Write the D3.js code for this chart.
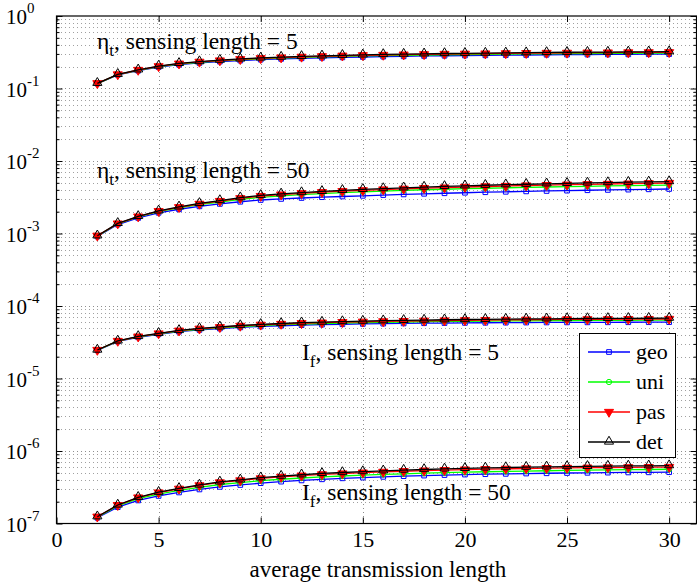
<!DOCTYPE html>
<html><head><meta charset="utf-8">
<script src="https://cdn.jsdelivr.net/npm/d3@7/dist/d3.min.js"></script>
<style>body{margin:0;background:#fff}text{font-family:"Liberation Serif","Times New Roman",serif}</style>
</head><body>
<svg id="c" width="697" height="583"></svg>
<script>
const xs = [2,3,4,5,6,7,8,9,10,11,12,13,14,15,16,17,18,19,20,21,22,23,24,25,26,27,28,29,30];
const seriesNames = ["geo","uni","pas","det"];
const xTicks = [0,5,10,15,20,25,30];
const yTicks = [1e-7,1e-6,1e-5,1e-4,1e-3,1e-2,1e-1,1e0];
const yTickExps = ["-7","-6","-5","-4","-3","-2","-1","0"];

// eta_t, sensing length = 5
const etaS5_geo = [0.117,0.154,0.176,0.197,0.213,0.225,0.235,0.243,0.250,0.256,0.261,0.265,0.269,0.272,0.275,0.278,0.281,0.283,0.285,0.287,0.289,0.290,0.292,0.293,0.294,0.295,0.296,0.297,0.298];
const etaS5_uni = [0.117,0.155,0.178,0.200,0.217,0.230,0.240,0.249,0.257,0.263,0.268,0.273,0.277,0.281,0.284,0.287,0.290,0.292,0.294,0.296,0.298,0.300,0.301,0.303,0.304,0.305,0.306,0.307,0.308];
const etaS5_pas = [0.118,0.156,0.180,0.202,0.220,0.233,0.243,0.253,0.261,0.267,0.273,0.278,0.283,0.287,0.290,0.293,0.296,0.299,0.301,0.303,0.305,0.307,0.309,0.310,0.312,0.313,0.314,0.315,0.316];
const etaS5_det = [0.118,0.157,0.181,0.204,0.222,0.235,0.246,0.256,0.264,0.271,0.277,0.282,0.287,0.291,0.295,0.298,0.301,0.304,0.306,0.308,0.310,0.312,0.314,0.316,0.317,0.318,0.320,0.321,0.322];

// eta_t, sensing length = 50
const etaS50_geo = [0.91e-3,1.33e-3,1.64e-3,1.93e-3,2.16e-3,2.37e-3,2.56e-3,2.74e-3,2.90e-3,3.00e-3,3.09e-3,3.17e-3,3.24e-3,3.31e-3,3.39e-3,3.46e-3,3.53e-3,3.59e-3,3.65e-3,3.71e-3,3.76e-3,3.81e-3,3.86e-3,3.90e-3,3.95e-3,3.99e-3,4.03e-3,4.07e-3,4.11e-3];
const etaS50_uni = [0.92e-3,1.36e-3,1.69e-3,2.00e-3,2.26e-3,2.50e-3,2.72e-3,2.96e-3,3.16e-3,3.30e-3,3.43e-3,3.55e-3,3.66e-3,3.76e-3,3.85e-3,3.93e-3,4.01e-3,4.08e-3,4.15e-3,4.21e-3,4.27e-3,4.33e-3,4.38e-3,4.43e-3,4.48e-3,4.53e-3,4.57e-3,4.61e-3,4.65e-3];
const etaS50_pas = [0.93e-3,1.37e-3,1.71e-3,2.03e-3,2.30e-3,2.56e-3,2.80e-3,3.06e-3,3.28e-3,3.44e-3,3.58e-3,3.71e-3,3.83e-3,3.94e-3,4.04e-3,4.13e-3,4.22e-3,4.30e-3,4.38e-3,4.45e-3,4.52e-3,4.59e-3,4.65e-3,4.71e-3,4.77e-3,4.82e-3,4.87e-3,4.92e-3,4.97e-3];
const etaS50_det = [0.93e-3,1.38e-3,1.72e-3,2.05e-3,2.33e-3,2.60e-3,2.85e-3,3.12e-3,3.35e-3,3.52e-3,3.67e-3,3.81e-3,3.94e-3,4.06e-3,4.17e-3,4.27e-3,4.37e-3,4.46e-3,4.55e-3,4.63e-3,4.71e-3,4.78e-3,4.85e-3,4.92e-3,4.98e-3,5.04e-3,5.10e-3,5.15e-3,5.20e-3];

// I_f, sensing length = 5
const ifS5_geo = [2.45e-5,3.24e-5,3.70e-5,4.07e-5,4.42e-5,4.68e-5,4.89e-5,5.07e-5,5.22e-5,5.34e-5,5.44e-5,5.53e-5,5.60e-5,5.66e-5,5.71e-5,5.75e-5,5.79e-5,5.82e-5,5.85e-5,5.87e-5,5.89e-5,5.91e-5,5.93e-5,5.94e-5,5.95e-5,5.96e-5,5.97e-5,5.98e-5,5.99e-5];
const ifS5_uni = [2.46e-5,3.27e-5,3.75e-5,4.13e-5,4.50e-5,4.78e-5,5.00e-5,5.20e-5,5.38e-5,5.52e-5,5.64e-5,5.74e-5,5.83e-5,5.90e-5,5.97e-5,6.02e-5,6.07e-5,6.12e-5,6.16e-5,6.19e-5,6.22e-5,6.25e-5,6.28e-5,6.30e-5,6.32e-5,6.34e-5,6.36e-5,6.37e-5,6.39e-5];
const ifS5_pas = [2.47e-5,3.29e-5,3.78e-5,4.17e-5,4.56e-5,4.85e-5,5.09e-5,5.31e-5,5.50e-5,5.65e-5,5.78e-5,5.89e-5,5.98e-5,6.06e-5,6.13e-5,6.19e-5,6.25e-5,6.30e-5,6.35e-5,6.39e-5,6.43e-5,6.46e-5,6.49e-5,6.52e-5,6.54e-5,6.56e-5,6.58e-5,6.60e-5,6.62e-5];
const ifS5_det = [2.47e-5,3.30e-5,3.80e-5,4.20e-5,4.60e-5,4.90e-5,5.15e-5,5.38e-5,5.58e-5,5.74e-5,5.88e-5,6.00e-5,6.10e-5,6.19e-5,6.27e-5,6.34e-5,6.40e-5,6.46e-5,6.51e-5,6.55e-5,6.59e-5,6.63e-5,6.66e-5,6.69e-5,6.72e-5,6.74e-5,6.76e-5,6.78e-5,6.80e-5];

// I_f, sensing length = 50
const ifS50_geo = [1.20e-7,1.68e-7,2.08e-7,2.40e-7,2.68e-7,2.95e-7,3.20e-7,3.40e-7,3.60e-7,3.78e-7,3.93e-7,4.07e-7,4.20e-7,4.30e-7,4.40e-7,4.50e-7,4.58e-7,4.66e-7,4.73e-7,4.79e-7,4.84e-7,4.89e-7,4.93e-7,4.97e-7,5.00e-7,5.03e-7,5.06e-7,5.08e-7,5.10e-7];
const ifS50_uni = [1.22e-7,1.75e-7,2.20e-7,2.55e-7,2.86e-7,3.16e-7,3.45e-7,3.67e-7,3.90e-7,4.08e-7,4.24e-7,4.39e-7,4.52e-7,4.64e-7,4.75e-7,4.85e-7,4.94e-7,5.02e-7,5.10e-7,5.17e-7,5.23e-7,5.29e-7,5.34e-7,5.39e-7,5.44e-7,5.48e-7,5.52e-7,5.56e-7,5.60e-7];
const ifS50_pas = [1.24e-7,1.79e-7,2.28e-7,2.67e-7,3.01e-7,3.35e-7,3.68e-7,3.92e-7,4.18e-7,4.39e-7,4.57e-7,4.75e-7,4.89e-7,5.03e-7,5.15e-7,5.26e-7,5.36e-7,5.45e-7,5.54e-7,5.61e-7,5.68e-7,5.74e-7,5.79e-7,5.84e-7,5.88e-7,5.92e-7,5.95e-7,5.98e-7,6.01e-7];
const ifS50_det = [1.24e-7,1.80e-7,2.30e-7,2.70e-7,3.05e-7,3.40e-7,3.75e-7,4.00e-7,4.28e-7,4.50e-7,4.70e-7,4.90e-7,5.05e-7,5.20e-7,5.33e-7,5.45e-7,5.56e-7,5.66e-7,5.76e-7,5.84e-7,5.91e-7,5.98e-7,6.04e-7,6.10e-7,6.14e-7,6.18e-7,6.22e-7,6.25e-7,6.28e-7];

const groups = [
  [etaS5_geo, etaS5_uni, etaS5_pas, etaS5_det],
  [etaS50_geo, etaS50_uni, etaS50_pas, etaS50_det],
  [ifS5_geo, ifS5_uni, ifS5_pas, ifS5_det],
  [ifS50_geo, ifS50_uni, ifS50_pas, ifS50_det]
];

const colors = ["#0000ff","#00ff00","#ff0000","#000000"];

const L = 56.5, R = 696.5, T = 16, B = 523.5;
const svg = d3.select("#c");
const x = d3.scaleLinear().domain([0, 31.34]).range([L, R]);
const y = d3.scaleLog().domain([1e-7, 1e0]).range([B, T]);

// grid
const minor = y.ticks().filter(v => Math.abs(Math.log10(v) - Math.round(Math.log10(v))) > 1e-6);
const grid = svg.append("g").attr("stroke", "#444").attr("stroke-width", 1).attr("stroke-dasharray", "1,3").attr("shape-rendering", "crispEdges");
grid.selectAll(".hm").data(minor).join("line")
  .attr("x1", L).attr("x2", R).attr("y1", d => Math.round(y(d)) + 0.5).attr("y2", d => Math.round(y(d)) + 0.5).attr("opacity", 0.5);
grid.selectAll(".hM").data(yTicks.slice(1, -1)).join("line").attr("class","hM")
  .attr("x1", L).attr("x2", R).attr("y1", d => Math.round(y(d)) + 0.5).attr("y2", d => Math.round(y(d)) + 0.5).attr("opacity", 0.6);
grid.selectAll(".v").data(xTicks.slice(1)).join("line").attr("class","v")
  .attr("y1", T).attr("y2", B).attr("x1", d => Math.round(x(d)) + 0.5).attr("x2", d => Math.round(x(d)) + 0.5).attr("opacity", 0.6);

// axes (inward ticks)
const axB = svg.append("g").attr("transform", `translate(0,${B})`)
  .call(d3.axisBottom(x).tickValues(xTicks).tickSize(-6).tickPadding(10).tickFormat(d3.format("d")));
const axT = svg.append("g").attr("transform", `translate(0,${T})`)
  .call(d3.axisTop(x).tickValues(xTicks).tickSize(-6).tickFormat(""));
const axL = svg.append("g").attr("transform", `translate(${L},0)`)
  .call(d3.axisLeft(y).tickValues(yTicks).tickSize(-6).tickFormat(""));
const axLm = svg.append("g").attr("transform", `translate(${L},0)`)
  .call(d3.axisLeft(y).tickValues(minor).tickSize(-3).tickFormat(""));
const axR = svg.append("g").attr("transform", `translate(${R},0)`)
  .call(d3.axisRight(y).tickValues(yTicks).tickSize(-6).tickFormat(""));
const axRm = svg.append("g").attr("transform", `translate(${R},0)`)
  .call(d3.axisRight(y).tickValues(minor).tickSize(-3).tickFormat(""));
[axB, axT, axL, axLm, axR, axRm].forEach(a => {
  a.select(".domain").remove();
  a.selectAll("line").attr("stroke", "#000").attr("stroke-width", 1);
});
axB.selectAll("text").attr("font-size", 22).attr("font-family", "Liberation Serif").attr("fill", "#000").attr("dy", "0.62em");

// frame
svg.append("rect").attr("x", L).attr("y", T).attr("width", R - L).attr("height", B - T)
  .attr("fill", "none").attr("stroke", "#000").attr("stroke-width", 1.2);

// y tick labels with superscripts
const yl = svg.append("g");
yTicks.forEach((v, i) => {
  const t = yl.append("text").attr("x", 6).attr("y", y(v) + 8).attr("font-size", 21).attr("fill", "#000");
  t.append("tspan").text("10");
  t.append("tspan").attr("dy", -11).attr("font-size", 15).text(yTickExps[i]);
});

// x label
svg.append("text").attr("x", 378).attr("y", 577).attr("text-anchor", "middle")
  .attr("font-size", 23).attr("fill", "#000").text("average transmission length");

// data
const line = d3.line().x((d, i) => x(xs[i])).y(d => y(d));
const sq = d3.symbol().type(d3.symbolSquare).size(22);
const ci = d3.symbol().type(d3.symbolCircle).size(22);
const triUp = d3.symbol().type(d3.symbolTriangle).size(36);
function marker(g, k, cx, cy) {
  if (k === 0) g.append("path").attr("d", sq()).attr("transform", `translate(${cx},${cy})`).attr("fill", "none").attr("stroke", colors[0]).attr("stroke-width", 1);
  else if (k === 1) g.append("path").attr("d", ci()).attr("transform", `translate(${cx},${cy})`).attr("fill", "none").attr("stroke", colors[1]).attr("stroke-width", 1);
  else if (k === 2) g.append("path").attr("d", triUp()).attr("transform", `translate(${cx},${cy}) rotate(180)`).attr("fill", colors[2]).attr("stroke", colors[2]).attr("stroke-width", 1);
  else g.append("path").attr("d", triUp()).attr("transform", `translate(${cx},${cy-0.5})`).attr("fill", "none").attr("stroke", colors[3]).attr("stroke-width", 1);
}
const dataG = svg.append("g");
groups.forEach(grp => {
  grp.forEach((vals, k) => {
    const g = dataG.append("g");
    g.append("path").attr("d", line(vals)).attr("fill", "none").attr("stroke", colors[k]).attr("stroke-width", 1.3);
    vals.forEach((v, i) => marker(g, k, x(xs[i]), y(v)));
  });
});

// annotations
function annot(px, py, main, sub, rest) {
  const t = svg.append("text").attr("x", px).attr("y", py).attr("font-size", 23.5).attr("fill", "#000");
  t.append("tspan").text(main);
  t.append("tspan").attr("dy", 7).attr("font-size", 17).text(sub);
  t.append("tspan").attr("dy", -7).text(rest);
}
annot(97, 49, "\u03b7", "t", ", sensing length = 5");
annot(97, 178, "\u03b7", "t", ", sensing length = 50");
annot(302, 360, "I", "f", ", sensing length = 5");
annot(302, 500, "I", "f", ", sensing length = 50");

// legend
const lg = svg.append("g");
lg.append("rect").attr("x", 579.5).attr("y", 333.5).attr("width", 96).attr("height", 124)
  .attr("fill", "#fff").attr("stroke", "#000").attr("stroke-width", 1);
seriesNames.forEach((n, k) => {
  const ly = 352 + k * 30;
  lg.append("line").attr("x1", 588).attr("x2", 630).attr("y1", ly).attr("y2", ly).attr("stroke", colors[k]).attr("stroke-width", 1.3);
  marker(lg, k, 609, ly);
  lg.append("text").attr("x", 636).attr("y", ly + 7).attr("font-size", 22).attr("fill", "#000").text(n);
});
</script>
</body></html>
